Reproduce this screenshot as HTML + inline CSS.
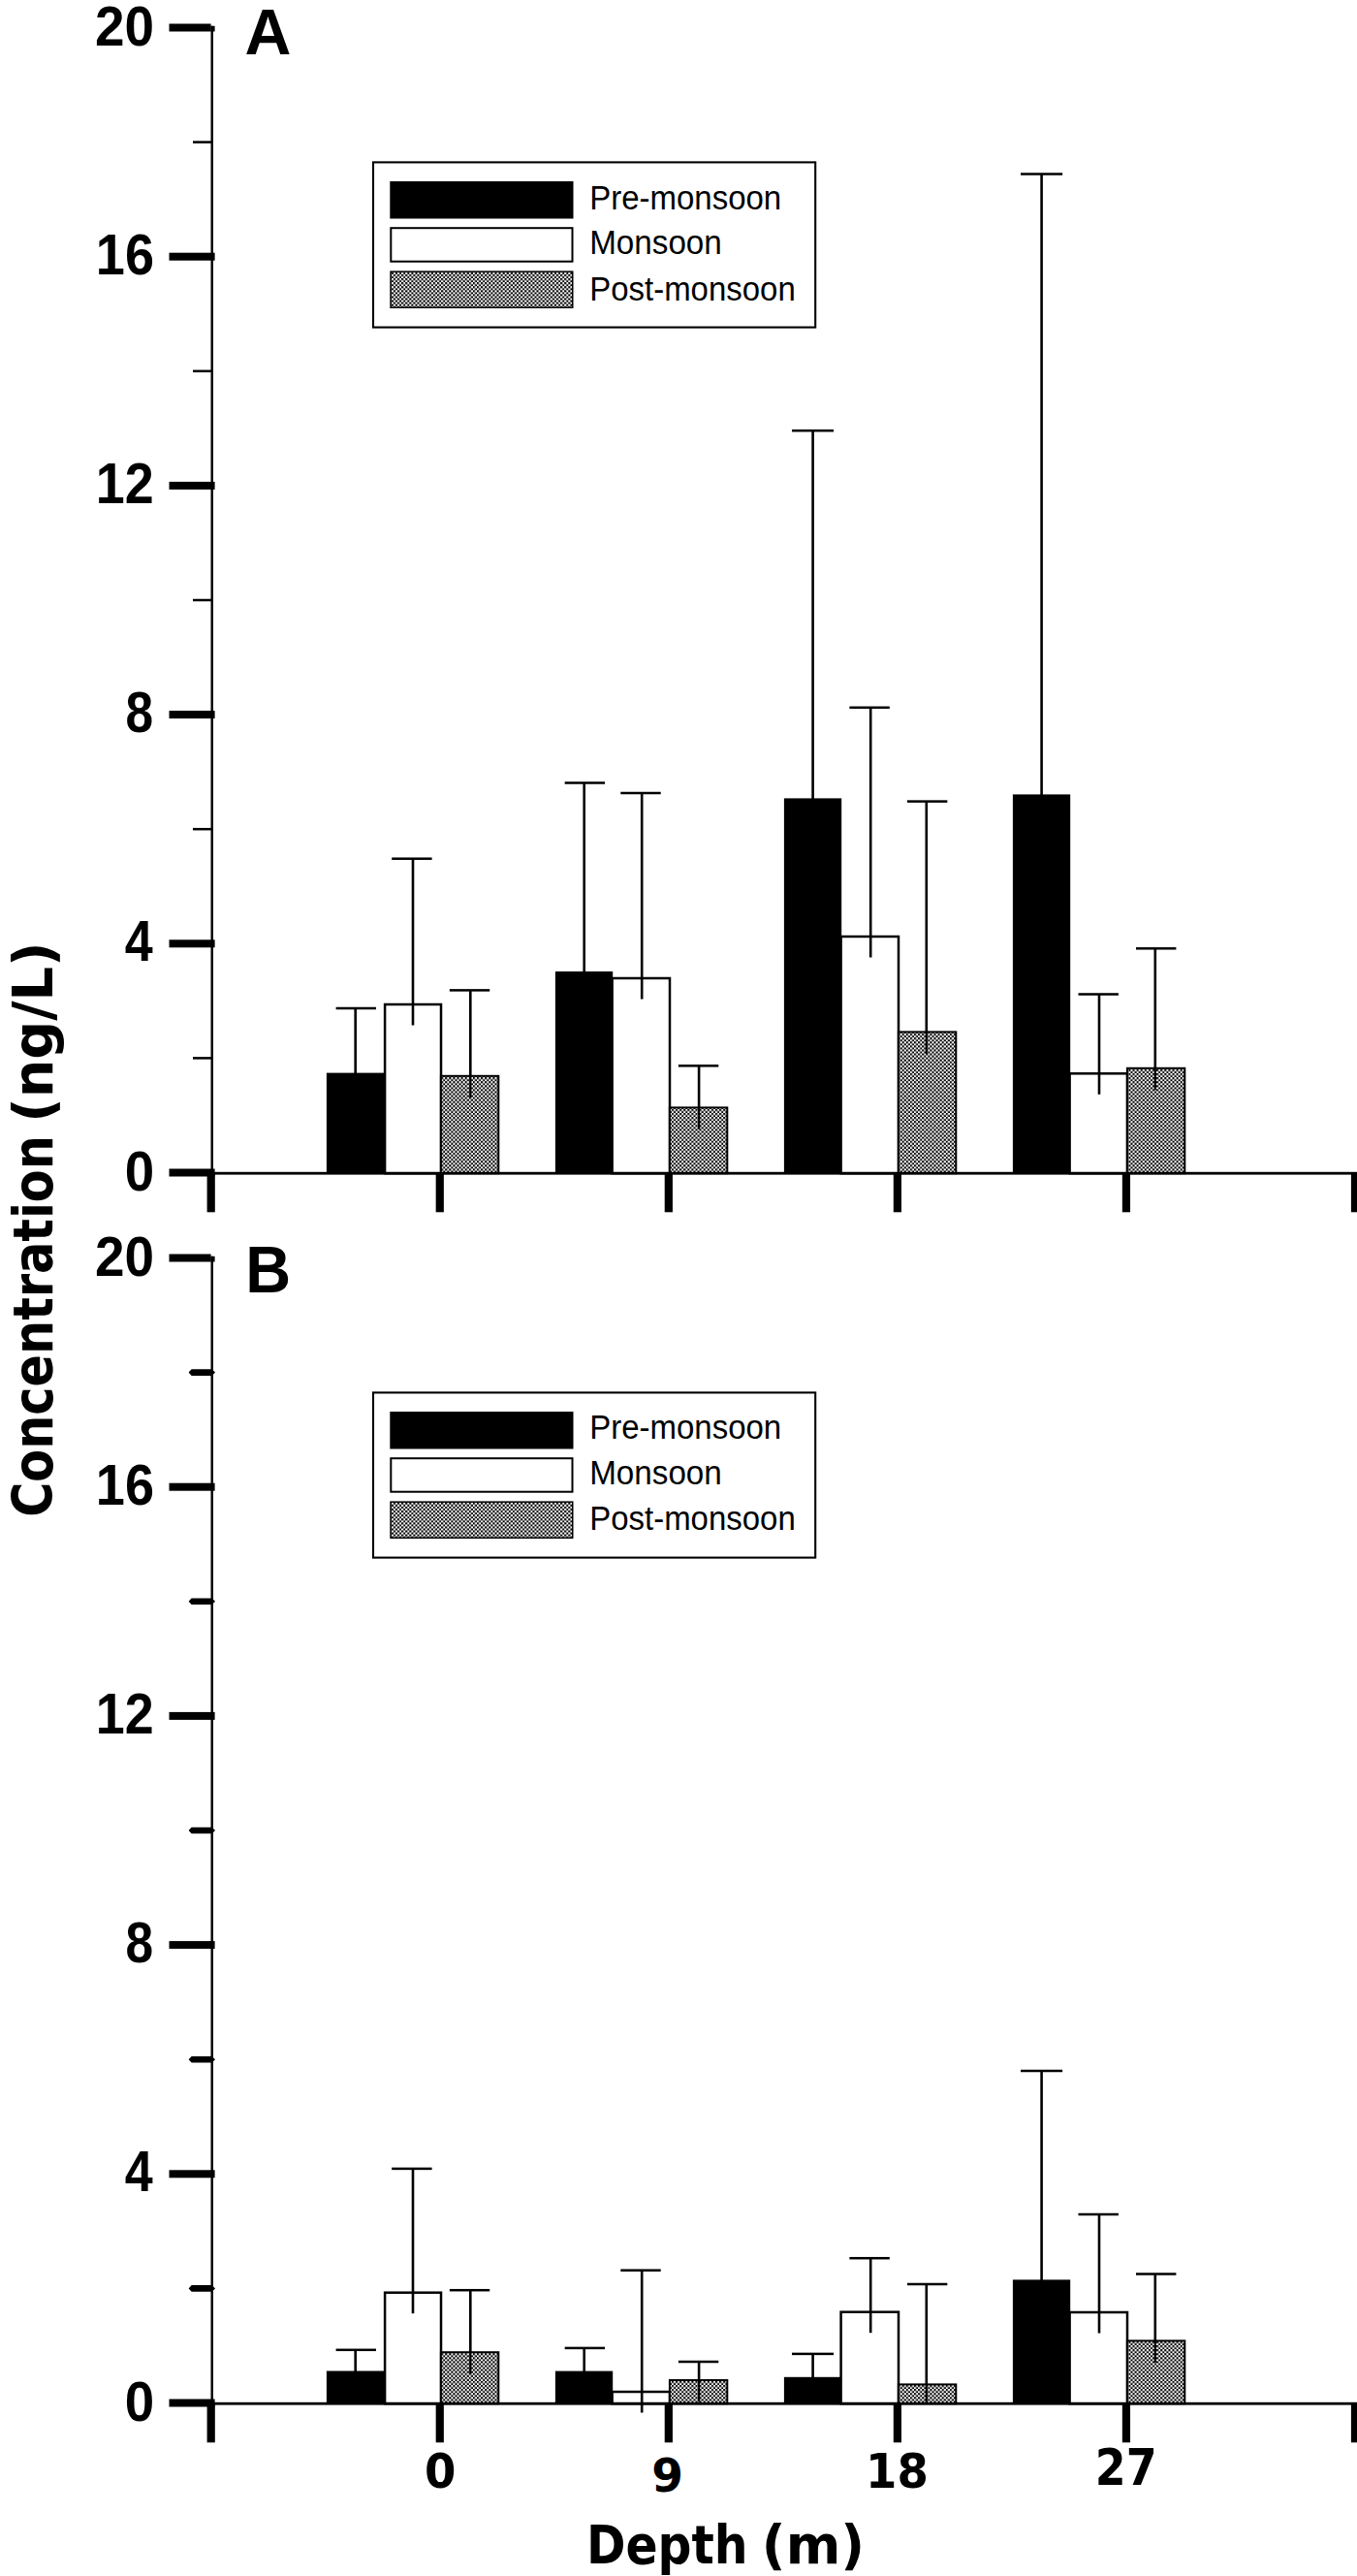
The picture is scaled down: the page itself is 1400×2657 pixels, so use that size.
<!DOCTYPE html>
<html lang="en"><head><meta charset="utf-8"><title>Concentration vs depth</title>
<style>html,body{margin:0;padding:0;background:#fff;overflow:hidden}svg{display:block}text{fill:#000}</style>
</head><body>
<svg width="1400" height="2657" viewBox="0 0 1400 2657">
<defs><pattern id="chk" x="0" y="0" width="4.1" height="4.1" patternUnits="userSpaceOnUse"><rect width="4.1" height="4.1" fill="#fff"/><rect x="0" y="0" width="2.05" height="2.05" fill="#000"/><rect x="2.05" y="2.05" width="2.05" height="2.05" fill="#000"/></pattern></defs>
<rect width="1400" height="2657" fill="#fff"/>
<rect x="336.90" y="1106.60" width="59.30" height="103.60" fill="#000" />
<rect x="397.10" y="1036.00" width="57.90" height="174.20" fill="#fff" stroke="#000" stroke-width="2.5"/>
<rect x="454.90" y="1109.80" width="59.40" height="100.40" fill="url(#chk)" stroke="#000" stroke-width="2"/>
<rect x="365.40" y="1040.00" width="2.60" height="88.10" fill="#000" />
<rect x="346.60" y="1038.75" width="41.40" height="2.50" fill="#000" />
<rect x="424.70" y="885.70" width="2.60" height="171.80" fill="#000" />
<rect x="404.20" y="884.45" width="41.40" height="2.50" fill="#000" />
<rect x="484.00" y="1021.40" width="2.60" height="88.40" fill="#000" />
<rect x="484.20" y="1109.80" width="2.20" height="22.50" fill="#000" />
<rect x="463.85" y="1020.15" width="41.40" height="2.50" fill="#000" />
<rect x="572.90" y="1002.00" width="59.30" height="208.20" fill="#000" />
<rect x="631.60" y="1009.00" width="59.40" height="201.20" fill="#fff" stroke="#000" stroke-width="2.5"/>
<rect x="690.90" y="1142.40" width="59.40" height="67.80" fill="url(#chk)" stroke="#000" stroke-width="2"/>
<rect x="601.40" y="807.50" width="2.60" height="216.00" fill="#000" />
<rect x="582.65" y="806.25" width="41.40" height="2.50" fill="#000" />
<rect x="660.90" y="818.00" width="2.60" height="212.50" fill="#000" />
<rect x="640.30" y="816.75" width="41.40" height="2.50" fill="#000" />
<rect x="719.80" y="1099.30" width="2.60" height="43.10" fill="#000" />
<rect x="720.00" y="1142.40" width="2.20" height="22.50" fill="#000" />
<rect x="699.90" y="1098.05" width="41.40" height="2.50" fill="#000" />
<rect x="808.90" y="823.40" width="59.30" height="386.80" fill="#000" />
<rect x="867.60" y="966.00" width="59.40" height="244.20" fill="#fff" stroke="#000" stroke-width="2.5"/>
<rect x="926.90" y="1064.40" width="59.40" height="145.80" fill="url(#chk)" stroke="#000" stroke-width="2"/>
<rect x="837.30" y="444.20" width="2.60" height="400.70" fill="#000" />
<rect x="817.00" y="442.95" width="43.10" height="2.50" fill="#000" />
<rect x="896.90" y="729.80" width="2.60" height="257.70" fill="#000" />
<rect x="876.40" y="728.55" width="41.40" height="2.50" fill="#000" />
<rect x="954.50" y="826.60" width="2.60" height="237.80" fill="#000" />
<rect x="954.70" y="1064.40" width="2.20" height="22.50" fill="#000" />
<rect x="935.95" y="825.35" width="41.40" height="2.50" fill="#000" />
<rect x="1044.90" y="819.40" width="59.30" height="390.80" fill="#000" />
<rect x="1103.60" y="1107.30" width="59.40" height="102.90" fill="#fff" stroke="#000" stroke-width="2.5"/>
<rect x="1162.90" y="1101.80" width="59.40" height="108.40" fill="url(#chk)" stroke="#000" stroke-width="2"/>
<rect x="1073.30" y="179.50" width="2.60" height="661.40" fill="#000" />
<rect x="1053.05" y="178.25" width="43.10" height="2.50" fill="#000" />
<rect x="1132.70" y="1025.50" width="2.60" height="103.30" fill="#000" />
<rect x="1112.50" y="1024.25" width="41.40" height="2.50" fill="#000" />
<rect x="1190.50" y="978.30" width="2.60" height="123.50" fill="#000" />
<rect x="1190.70" y="1101.80" width="2.20" height="22.50" fill="#000" />
<rect x="1172.00" y="977.05" width="41.40" height="2.50" fill="#000" />
<rect x="217.50" y="26.80" width="2.50" height="1184.10" fill="#000" />
<rect x="217.45" y="1208.80" width="1182.55" height="2.80" fill="#000" />
<rect x="174.50" y="24.50" width="43.10" height="8.00" fill="#000" />
<rect x="217.50" y="26.80" width="4.10" height="5.70" fill="#000" />
<rect x="199.00" y="145.35" width="20.00" height="2.50" fill="#000" />
<rect x="174.50" y="260.70" width="47.10" height="8.00" fill="#000" />
<rect x="199.00" y="381.55" width="20.00" height="2.50" fill="#000" />
<rect x="174.50" y="496.90" width="47.10" height="8.00" fill="#000" />
<rect x="199.00" y="617.75" width="20.00" height="2.50" fill="#000" />
<rect x="174.50" y="733.10" width="47.10" height="8.00" fill="#000" />
<rect x="199.00" y="853.95" width="20.00" height="2.50" fill="#000" />
<rect x="174.50" y="969.30" width="47.10" height="8.00" fill="#000" />
<rect x="199.00" y="1090.15" width="20.00" height="2.50" fill="#000" />
<rect x="174.50" y="1205.50" width="47.10" height="8.00" fill="#000" />
<rect x="213.60" y="1209.50" width="8.20" height="40.80" fill="#000" />
<rect x="449.66" y="1209.50" width="8.20" height="40.80" fill="#000" />
<rect x="685.72" y="1209.50" width="8.20" height="40.80" fill="#000" />
<rect x="921.78" y="1209.50" width="8.20" height="40.80" fill="#000" />
<rect x="1157.84" y="1209.50" width="8.20" height="40.80" fill="#000" />
<rect x="1393.90" y="1209.50" width="8.20" height="40.80" fill="#000" />
<text id="ay20" transform="translate(159.12,47.10) scale(0.9458,1.0024)" font-family='"Liberation Sans", sans-serif' font-size="58" font-weight="bold" text-anchor="end">20</text>
<text id="ay16" transform="translate(158.98,283.04) scale(0.9319,1.0122)" font-family='"Liberation Sans", sans-serif' font-size="58" font-weight="bold" text-anchor="end">16</text>
<text id="ay12" transform="translate(158.72,519.15) scale(0.9277,1.0099)" font-family='"Liberation Sans", sans-serif' font-size="58" font-weight="bold" text-anchor="end">12</text>
<text id="ay8" transform="translate(157.99,755.19) scale(0.8867,1.0122)" font-family='"Liberation Sans", sans-serif' font-size="58" font-weight="bold" text-anchor="end">8</text>
<text id="ay4" transform="translate(157.75,991.10) scale(0.8960,1.0239)" font-family='"Liberation Sans", sans-serif' font-size="58" font-weight="bold" text-anchor="end">4</text>
<text id="ay0" transform="translate(159.21,1227.80) scale(0.9437,1.0049)" font-family='"Liberation Sans", sans-serif' font-size="58" font-weight="bold" text-anchor="end">0</text>
<text id="aL" transform="translate(252.38,55.75) scale(1.0210,1.0369)" font-family='"Liberation Sans", sans-serif' font-size="65" font-weight="bold" text-anchor="start">A</text>
<rect x="385" y="167.40" width="456.2" height="170.2" fill="#fff" stroke="#000" stroke-width="2.1"/>
<rect x="402.30" y="187.00" width="189.20" height="38.50" fill="#000" />
<rect x="403.3" y="235.20" width="187.2" height="34.5" fill="#fff" stroke="#000" stroke-width="2"/>
<rect x="403.05" y="280.15" width="187.7" height="37.1" fill="url(#chk)" stroke="#000" stroke-width="1.5"/>
<text id="ag0" transform="translate(608.18,215.64) scale(1.0063,1.0505)" font-family='"Liberation Sans", sans-serif' font-size="32.8" font-weight="normal" text-anchor="start">Pre-monsoon</text>
<text id="ag1" transform="translate(608.16,262.33) scale(1.0131,1.0418)" font-family='"Liberation Sans", sans-serif' font-size="32.8" font-weight="normal" text-anchor="start">Monsoon</text>
<text id="ag2" transform="translate(608.19,309.53) scale(1.0053,1.0505)" font-family='"Liberation Sans", sans-serif' font-size="32.8" font-weight="normal" text-anchor="start">Post-monsoon</text>
<rect x="336.90" y="2445.50" width="59.30" height="33.70" fill="#000" />
<rect x="397.10" y="2364.70" width="57.90" height="114.50" fill="#fff" stroke="#000" stroke-width="2.5"/>
<rect x="454.90" y="2426.20" width="59.40" height="53.00" fill="url(#chk)" stroke="#000" stroke-width="2"/>
<rect x="365.40" y="2423.80" width="2.60" height="43.20" fill="#000" />
<rect x="346.60" y="2422.55" width="41.40" height="2.50" fill="#000" />
<rect x="424.70" y="2236.90" width="2.60" height="149.30" fill="#000" />
<rect x="404.20" y="2235.65" width="41.40" height="2.50" fill="#000" />
<rect x="484.00" y="2362.20" width="2.60" height="64.00" fill="#000" />
<rect x="484.20" y="2426.20" width="2.20" height="22.50" fill="#000" />
<rect x="463.85" y="2360.95" width="41.40" height="2.50" fill="#000" />
<rect x="572.90" y="2445.60" width="59.30" height="33.60" fill="#000" />
<rect x="631.60" y="2467.00" width="59.40" height="12.20" fill="#fff" stroke="#000" stroke-width="2.5"/>
<rect x="690.90" y="2455.00" width="59.40" height="24.20" fill="url(#chk)" stroke="#000" stroke-width="2"/>
<rect x="601.40" y="2421.90" width="2.60" height="45.20" fill="#000" />
<rect x="582.65" y="2420.65" width="41.40" height="2.50" fill="#000" />
<rect x="660.90" y="2341.70" width="2.60" height="146.80" fill="#000" />
<rect x="640.30" y="2340.45" width="41.40" height="2.50" fill="#000" />
<rect x="719.80" y="2436.00" width="2.60" height="19.00" fill="#000" />
<rect x="720.00" y="2455.00" width="2.20" height="22.50" fill="#000" />
<rect x="699.90" y="2434.75" width="41.40" height="2.50" fill="#000" />
<rect x="808.90" y="2451.80" width="59.30" height="27.40" fill="#000" />
<rect x="867.60" y="2384.70" width="59.40" height="94.50" fill="#fff" stroke="#000" stroke-width="2.5"/>
<rect x="926.90" y="2459.40" width="59.40" height="19.80" fill="url(#chk)" stroke="#000" stroke-width="2"/>
<rect x="837.30" y="2427.90" width="2.60" height="45.40" fill="#000" />
<rect x="817.00" y="2426.65" width="43.10" height="2.50" fill="#000" />
<rect x="896.90" y="2329.20" width="2.60" height="77.00" fill="#000" />
<rect x="876.40" y="2327.95" width="41.40" height="2.50" fill="#000" />
<rect x="954.50" y="2356.00" width="2.60" height="103.40" fill="#000" />
<rect x="954.70" y="2459.40" width="2.20" height="19.80" fill="#000" />
<rect x="935.95" y="2354.75" width="41.40" height="2.50" fill="#000" />
<rect x="1044.90" y="2351.40" width="59.30" height="127.80" fill="#000" />
<rect x="1103.60" y="2385.00" width="59.40" height="94.20" fill="#fff" stroke="#000" stroke-width="2.5"/>
<rect x="1162.90" y="2414.40" width="59.40" height="64.80" fill="url(#chk)" stroke="#000" stroke-width="2"/>
<rect x="1073.30" y="2136.00" width="2.60" height="236.90" fill="#000" />
<rect x="1053.05" y="2134.75" width="43.10" height="2.50" fill="#000" />
<rect x="1132.70" y="2284.00" width="2.60" height="122.50" fill="#000" />
<rect x="1112.50" y="2282.75" width="41.40" height="2.50" fill="#000" />
<rect x="1190.50" y="2345.50" width="2.60" height="68.90" fill="#000" />
<rect x="1190.70" y="2414.40" width="2.20" height="22.50" fill="#000" />
<rect x="1172.00" y="2344.25" width="41.40" height="2.50" fill="#000" />
<rect x="217.50" y="1295.80" width="2.50" height="1184.10" fill="#000" />
<rect x="217.45" y="2477.80" width="1182.55" height="2.80" fill="#000" />
<rect x="174.50" y="1293.50" width="43.10" height="8.00" fill="#000" />
<rect x="217.50" y="1295.80" width="4.10" height="5.70" fill="#000" />
<polygon points="194.6,1415.60 197.6,1412.30 218.8,1412.30 222,1415.60 218.8,1418.90 197.6,1418.90" fill="#000"/>
<rect x="174.50" y="1529.70" width="47.10" height="8.00" fill="#000" />
<polygon points="194.6,1651.80 197.6,1648.50 218.8,1648.50 222,1651.80 218.8,1655.10 197.6,1655.10" fill="#000"/>
<rect x="174.50" y="1765.90" width="47.10" height="8.00" fill="#000" />
<polygon points="194.6,1888.00 197.6,1884.70 218.8,1884.70 222,1888.00 218.8,1891.30 197.6,1891.30" fill="#000"/>
<rect x="174.50" y="2002.10" width="47.10" height="8.00" fill="#000" />
<polygon points="194.6,2124.20 197.6,2120.90 218.8,2120.90 222,2124.20 218.8,2127.50 197.6,2127.50" fill="#000"/>
<rect x="174.50" y="2238.30" width="47.10" height="8.00" fill="#000" />
<polygon points="194.6,2360.40 197.6,2357.10 218.8,2357.10 222,2360.40 218.8,2363.70 197.6,2363.70" fill="#000"/>
<rect x="174.50" y="2474.50" width="47.10" height="8.00" fill="#000" />
<rect x="213.60" y="2478.50" width="8.20" height="40.80" fill="#000" />
<rect x="449.66" y="2478.50" width="8.20" height="40.80" fill="#000" />
<rect x="685.72" y="2478.50" width="8.20" height="40.80" fill="#000" />
<rect x="921.78" y="2478.50" width="8.20" height="40.80" fill="#000" />
<rect x="1157.84" y="2478.50" width="8.20" height="40.80" fill="#000" />
<rect x="1393.90" y="2478.50" width="8.20" height="40.80" fill="#000" />
<text id="by20" transform="translate(159.12,1316.20) scale(0.9458,1.0024)" font-family='"Liberation Sans", sans-serif' font-size="58" font-weight="bold" text-anchor="end">20</text>
<text id="by16" transform="translate(158.98,1552.04) scale(0.9319,1.0122)" font-family='"Liberation Sans", sans-serif' font-size="58" font-weight="bold" text-anchor="end">16</text>
<text id="by12" transform="translate(158.72,1788.15) scale(0.9277,1.0099)" font-family='"Liberation Sans", sans-serif' font-size="58" font-weight="bold" text-anchor="end">12</text>
<text id="by8" transform="translate(157.99,2024.19) scale(0.8867,1.0122)" font-family='"Liberation Sans", sans-serif' font-size="58" font-weight="bold" text-anchor="end">8</text>
<text id="by4" transform="translate(157.75,2260.10) scale(0.8960,1.0239)" font-family='"Liberation Sans", sans-serif' font-size="58" font-weight="bold" text-anchor="end">4</text>
<text id="by0" transform="translate(159.21,2496.80) scale(0.9437,1.0049)" font-family='"Liberation Sans", sans-serif' font-size="58" font-weight="bold" text-anchor="end">0</text>
<text id="bL" transform="translate(253.29,1333.10) scale(0.9981,1.0413)" font-family='"Liberation Sans", sans-serif' font-size="65" font-weight="bold" text-anchor="start">B</text>
<rect x="385" y="1436.40" width="456.2" height="170.2" fill="#fff" stroke="#000" stroke-width="2.1"/>
<rect x="402.30" y="1456.00" width="189.20" height="38.50" fill="#000" />
<rect x="403.3" y="1504.20" width="187.2" height="34.5" fill="#fff" stroke="#000" stroke-width="2"/>
<rect x="403.05" y="1549.15" width="187.7" height="37.1" fill="url(#chk)" stroke="#000" stroke-width="1.5"/>
<text id="bg0" transform="translate(608.18,1484.14) scale(1.0063,1.0505)" font-family='"Liberation Sans", sans-serif' font-size="32.8" font-weight="normal" text-anchor="start">Pre-monsoon</text>
<text id="bg1" transform="translate(608.16,1530.83) scale(1.0131,1.0418)" font-family='"Liberation Sans", sans-serif' font-size="32.8" font-weight="normal" text-anchor="start">Monsoon</text>
<text id="bg2" transform="translate(608.19,1578.03) scale(1.0053,1.0505)" font-family='"Liberation Sans", sans-serif' font-size="32.8" font-weight="normal" text-anchor="start">Post-monsoon</text>
<text id="x0" transform="translate(454.30,2566.48) scale(0.8960,0.9605)" font-family='"DejaVu Sans", "Liberation Sans", sans-serif' font-size="52" font-weight="bold" text-anchor="middle">0</text>
<text id="x9" transform="translate(688.66,2570.39) scale(0.9032,0.9376)" font-family='"DejaVu Sans", "Liberation Sans", sans-serif' font-size="52" font-weight="bold" text-anchor="middle">9</text>
<text id="x18" transform="translate(925.46,2566.29) scale(0.8950,0.9580)" font-family='"DejaVu Sans", "Liberation Sans", sans-serif' font-size="52" font-weight="bold" text-anchor="middle">18</text>
<text id="x27" transform="translate(1161.80,2562.85) scale(0.8831,0.9844)" font-family='"DejaVu Sans", "Liberation Sans", sans-serif' font-size="52" font-weight="bold" text-anchor="middle">27</text>
<text id="xt1" transform="translate(604.88,2644.00) scale(0.8800,1.0000)" font-family='"DejaVu Sans", "Liberation Sans", sans-serif' font-size="55.5" font-weight="bold" text-anchor="start">Depth</text>
<text id="xt2" transform="translate(785.86,2644.00) scale(0.9783,1.0000)" font-family='"DejaVu Sans", "Liberation Sans", sans-serif' font-size="55.5" font-weight="bold" text-anchor="start">(m)</text>
<text id="yt1" transform="translate(53.60,1564.87) rotate(-90) scale(0.8686,1.0000)" font-family='"DejaVu Sans", "Liberation Sans", sans-serif' font-size="56.8" font-weight="bold" text-anchor="start">Concentration</text>
<text id="yt2" transform="translate(53.60,1157.75) rotate(-90) scale(0.9806,1.0000)" font-family='"DejaVu Sans", "Liberation Sans", sans-serif' font-size="56.8" font-weight="bold" text-anchor="start">(ng/L)</text>
</svg>
</body></html>
